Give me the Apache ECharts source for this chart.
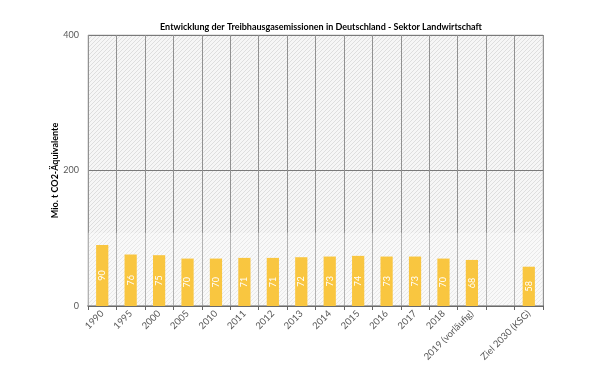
<!DOCTYPE html>
<html><head><meta charset="utf-8">
<script src="https://cdn.jsdelivr.net/npm/echarts@6/dist/echarts.min.js"></script>
<style>html,body{margin:0;padding:0;background:#fff}#c{width:600px;height:379px}</style>
</head><body><div id="c"></div>
<script>
const categories = ['1990','1995','2000','2005','2010','2011','2012','2013','2014','2015','2016','2017','2018','2019 (vorläufig)','','Ziel 2030 (KSG)'];
const values = [90,76,75,70,70,71,71,72,73,74,73,73,70,68,null,58];
const yTicks = {min:0, max:400, interval:200};
const lightBand = [0,108];

const cv = document.createElement('canvas');
cv.width = 4; cv.height = 4;
const cx = cv.getContext('2d');
cx.fillStyle = '#f6f6f6'; cx.fillRect(0,0,4,4);
cx.strokeStyle = '#dedede'; cx.lineWidth = 1;
cx.beginPath();
for (let k=-4;k<=8;k+=4){ cx.moveTo(k,4); cx.lineTo(k+4,0); }
cx.stroke();

const chart = echarts.init(document.getElementById('c'));
chart.setOption({
  animation:false,
  title:{text:'Entwicklung der Treibhausgasemissionen in Deutschland - Sektor Landwirtschaft',left:316,top:18,textAlign:'center',
    textStyle:{fontFamily:'Lato',fontSize:9,fontWeight:'bold',color:'#000'}},
  grid:{left:88,right:57,top:35,bottom:73,show:true,backgroundColor:{image:cv,repeat:'repeat'},borderColor:'#c8c8c8',borderWidth:1},
  xAxis:{type:'category',data:categories,
    axisLine:{lineStyle:{color:'#666',width:1.5}},
    axisTick:{show:true,length:4,lineStyle:{color:'#666'}},
    splitLine:{show:true,interval:0,lineStyle:{color:'#919191',width:1}},
    axisLabel:{interval:0,rotate:45,fontFamily:'Lato',fontSize:9.5,color:'#595959',margin:6}},
  yAxis:{type:'value',min:yTicks.min,max:yTicks.max,interval:yTicks.interval,
    name:'Mio. t CO2-Äquivalente',nameLocation:'middle',nameGap:28,nameMoveOverlap:false,
    nameTextStyle:{fontFamily:'Lato',fontSize:9,fontWeight:'bold',color:'#000'},
    axisLine:{show:false},axisTick:{show:false},
    splitLine:{lineStyle:{color:'#7a7a7a',width:1}},
    axisLabel:{fontFamily:'Lato',fontSize:9,color:'#595959',margin:9}},
  series:[{type:'bar',data:values,barWidth:'43%',
    itemStyle:{color:'#F9C640'},
    label:{show:true,position:'inside',rotate:90,color:'#fff',fontFamily:'Lato',fontSize:9},
    markArea:{silent:true,itemStyle:{color:'rgba(255,255,255,0.3)'},data:[[{yAxis:lightBand[0]},{yAxis:lightBand[1]}]]}
  }]
});
</script></body></html>
